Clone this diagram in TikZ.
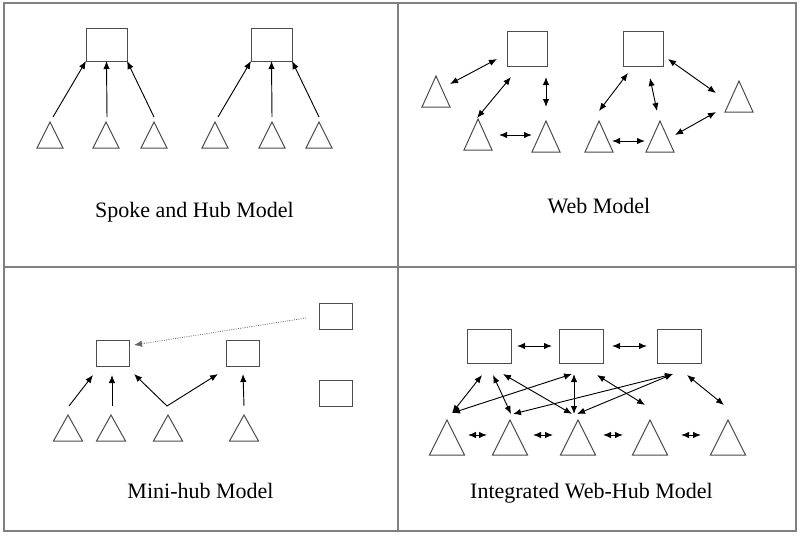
\documentclass[tikz,border=0pt]{standalone}
\usepackage{fontspec}
\setmainfont{Liberation Serif}
\usetikzlibrary{arrows.meta,shapes.geometric}
\definecolor{framegray}{rgb}{0.5,0.5,0.5}
\definecolor{shapegray}{rgb}{0.3,0.3,0.3}
\tikzset{
  hub/.style 2 args={draw=shapegray, rectangle, line width=0.75pt, minimum width=#1, minimum height=#2, inner sep=0pt, outer sep=0pt},
  spoke/.style 2 args={draw=shapegray, isosceles triangle, isosceles triangle stretches, shape border rotate=90, line width=0.75pt, minimum width=#1, minimum height=#2, inner sep=0pt, outer sep=0pt, anchor=apex},
  link/.style={-{Latex[length=6pt,width=4.8pt]}, line width=0.7pt},
  twoway/.style={{Latex[length=6pt,width=4.8pt]}-{Latex[length=6pt,width=4.8pt]}, line width=0.7pt},
  caption/.style={font=\fontsize{16.5}{20}\selectfont, anchor=base, inner sep=0pt}
}

\begin{document}
\begin{tikzpicture}[x=0.75pt, y=-0.75pt]
    \fill[white] (0,0) rectangle (800,536);
    \useasboundingbox (0,0) rectangle (800,536);
    \draw[framegray, line width=1.5pt] (4,3) rectangle (796,531);
    \draw[framegray, line width=1.5pt] (397.5,3) -- (397.5,531);
    \draw[framegray, line width=1.5pt] (4,267) -- (796,267);

    % spoke and hub
    \node[hub={30.75pt}{24.75pt}] (h1) at (106.5,44.5) {};
    \node[hub={30.75pt}{24.75pt}] (h2) at (271.5,44.5) {};
    \foreach \n/\x in {1/50,2/106,3/154,4/215,5/272,6/319}
        \node[spoke={19.5pt}{19.5pt}] (s\n) at (\x,122) {};
    \draw[link] ([shift={(3,-5)}]s1.apex) -- (h1.south west);
    \draw[link] ([shift={(1,-5)}]s2.apex) -- (h1.south);
    \draw[link] ([shift={(0,-5)}]s3.apex) -- (h1.south east);
    \draw[link] ([shift={(3,-5)}]s4.apex) -- (h2.south west);
    \draw[link] ([shift={(0,-5)}]s5.apex) -- (h2.south);
    \draw[link] ([shift={(0,-5)}]s6.apex) -- (h2.south east);
    \node[caption] (cap1) at (194.5,217) {Spoke and Hub Model};

    % web
    \node[hub={30pt}{26.25pt}] (w1) at (527,48.5) {};
    \node[hub={30pt}{26.25pt}] (w2) at (643,48.5) {};
    \foreach \n/\x/\y in {1/436/76,2/478/119,3/546/121,4/599/121,5/660/121,6/739/81}
        \node[spoke={21pt}{23.25pt}] (v\n) at (\x,\y) {};
    \draw[twoway] ([shift={(14,8)}]v1.apex) -- ([shift={(-30,10.5)}]w1.center);
    \draw[twoway] ([shift={(-1,-1)}]v2.apex) -- ([shift={(-16,28.5)}]w1.center);
    \draw[twoway] ([shift={(19,28.5)}]w1.center) -- ([shift={(0,-14)}]v3.apex);
    \draw[twoway] ([shift={(21,16)}]v2.apex) -- ([shift={(-14,14)}]v3.apex);
    \draw[twoway] ([shift={(0,-10)}]v4.apex) -- ([shift={(-15,24.5)}]w2.center);
    \draw[twoway] ([shift={(7,29.5)}]w2.center) -- ([shift={(-3,-10)}]v5.apex);
    \draw[twoway] ([shift={(25,10.5)}]w2.center) -- ([shift={(-23,12)}]v6.apex);
    \draw[twoway] ([shift={(13,20)}]v4.apex) -- ([shift={(-15,20)}]v5.apex);
    \draw[twoway] ([shift={(15,14)}]v5.apex) -- ([shift={(-23,31)}]v6.apex);
    \node[caption] (cap2) at (599,213) {Web Model};

    % mini-hub
    \node[hub={24.75pt}{19.5pt}] (m1) at (113,353) {};
    \node[hub={24.75pt}{19.5pt}] (m2) at (242.5,353) {};
    \node[hub={24.75pt}{19.5pt}] (m3) at (335.5,316) {};
    \node[hub={24.75pt}{19.5pt}] (m4) at (335.5,393) {};
    \foreach \n/\x in {1/68,2/111,3/168,4/244}
        \node[spoke={21.75pt}{19.5pt}] (u\n) at (\x,415) {};
    \draw[link, densely dotted, black!60, line width=0.55pt] ([shift={(-13,2)}]m3.west) -- ([shift={(21,-8)}]m1.center);
    \draw[link] ([shift={(1,-9)}]u1.apex) -- ([shift={(-20,22)}]m1.center);
    \draw[link] ([shift={(1,-9)}]u2.apex) -- ([shift={(-1,22)}]m1.center);
    \draw[twoway] ([shift={(21,21)}]m1.center) -- ([shift={(-1,-9)}]u3.apex) -- ([shift={(-24.5,21)}]m2.center);
    \draw[link] ([shift={(0,-9)}]u4.apex) -- ([shift={(0.5,21)}]m2.center);
    \node[caption] (cap3) at (200.5,498) {Mini-hub Model};

    % integrated web-hub
    \node[hub={33pt}{25.5pt}] (g1) at (489,346) {};
    \node[hub={33pt}{25.5pt}] (g2) at (581.5,346) {};
    \node[hub={33pt}{25.5pt}] (g3) at (679.5,346) {};
    \foreach \n/\x in {1/447,2/510,3/578,4/650,5/728}
        \node[spoke={26.25pt}{26.25pt}] (r\n) at (\x,420) {};
    \draw[twoway] ([shift={(28,0)}]g1.center) -- ([shift={(-29.5,0)}]g2.center);
    \draw[twoway] ([shift={(30.5,0)}]g2.center) -- ([shift={(-32.5,0)}]g3.center);
    \draw[twoway] ([shift={(21,15)}]r1.apex) -- ([shift={(-23,15)}]r2.apex);
    \draw[twoway] ([shift={(23,15)}]r2.apex) -- ([shift={(-25,15)}]r3.apex);
    \draw[twoway] ([shift={(25,15)}]r3.apex) -- ([shift={(-27,15)}]r4.apex);
    \draw[twoway] ([shift={(31,15)}]r4.apex) -- ([shift={(-27,15)}]r5.apex);
    \draw[twoway] ([shift={(5,-7)}]r1.apex) -- ([shift={(-7,29)}]g1.center);
    \draw[twoway] ([shift={(4,29)}]g1.center) -- ([shift={(1,-6)}]r2.apex);
    \draw[twoway] ([shift={(14,28)}]g1.center) -- ([shift={(-6,-6)}]r3.apex);
    \draw[twoway] ([shift={(5,-7)}]r1.apex) -- ([shift={(-9.5,28)}]g2.center);
    \draw[twoway] ([shift={(-7.5,28)}]g2.center) -- ([shift={(-4,-6)}]r3.apex);
    \draw[twoway] ([shift={(3,-6)}]r2.apex) -- ([shift={(-6.5,28)}]g3.center);
    \draw[twoway] ([shift={(-1,-6)}]r3.apex) -- ([shift={(-6.5,28)}]g3.center);
    \draw[twoway] ([shift={(15.5,29)}]g2.center) -- ([shift={(-5,-15)}]r4.apex);
    \draw[twoway] ([shift={(7.5,29)}]g3.center) -- ([shift={(-4,-15)}]r5.apex);
    \node[caption] (cap4) at (591.5,498) {Integrated Web-Hub Model};
\end{tikzpicture}
\end{document}
